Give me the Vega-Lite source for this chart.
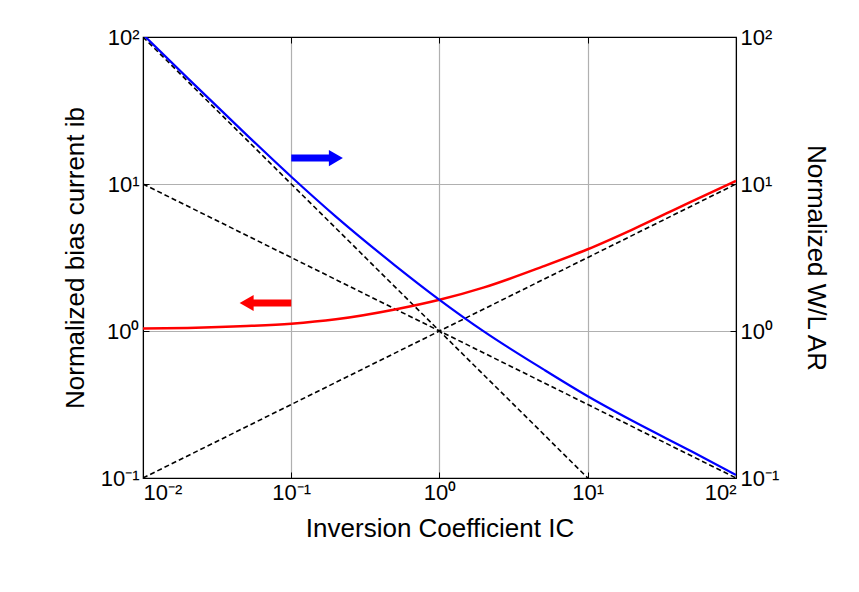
{"$schema": "https://vega.github.io/schema/vega-lite/v6.json",
  "width": 593, "height": 441,
  "padding": {"left": 62, "top": 26, "right": 5, "bottom": 5},
  "config": {
    "font": "Liberation Sans",
    "view": {"stroke": "black", "strokeWidth": 1.2},
    "axis": {"labelFontSize": 22, "titleFontSize": 26, "titleFontWeight": "normal", "labelColor": "black", "titleColor": "black",
      "tickColor": "black", "domainColor": "black", "tickSize": -6, "labelPadding": 10, "gridColor": "#b0b0b0", "gridWidth": 1.2}
  },
  "datasets": {
    "curves": [
      {"ic": 0.01, "ib": 1.04, "wl": 104}, {"ic": 0.02, "ib": 1.05, "wl": 52.5}, {"ic": 0.05, "ib": 1.08, "wl": 21.6},
      {"ic": 0.1, "ib": 1.12, "wl": 11.2}, {"ic": 0.2, "ib": 1.2, "wl": 6.0}, {"ic": 0.5, "ib": 1.4, "wl": 2.8},
      {"ic": 1, "ib": 1.63, "wl": 1.63}, {"ic": 2, "ib": 1.98, "wl": 0.99}, {"ic": 5, "ib": 2.75, "wl": 0.55},
      {"ic": 10, "ib": 3.6, "wl": 0.36}, {"ic": 20, "ib": 4.9, "wl": 0.245}, {"ic": 50, "ib": 7.6, "wl": 0.152},
      {"ic": 100, "ib": 10.5, "wl": 0.105}
    ],
    "dashes": [
      {"ic": 0.01, "y": 100, "g": "a"}, {"ic": 10, "y": 0.1, "g": "a"},
      {"ic": 0.01, "y": 10, "g": "b"}, {"ic": 100, "y": 0.1, "g": "b"},
      {"ic": 0.01, "y": 0.1, "g": "c"}, {"ic": 100, "y": 10, "g": "c"}
    ],
    "arrows": [
      {"x1": 0.1, "x2": 0.185, "tip": 0.2, "y": 15, "c": "blue", "shape": "triangle-right"},
      {"x1": 0.1, "x2": 0.054, "tip": 0.05, "y": 1.55, "c": "red", "shape": "triangle-left"}
    ]
  },
  "resolve": {"axis": {"x": "independent", "y": "independent"}},
  "layer": [
    {
      "data": {"name": "dashes"},
      "mark": {"type": "line", "color": "black", "strokeDash": [5, 3], "strokeWidth": 1.6, "clip": true},
      "encoding": {
        "x": {"field": "ic", "type": "quantitative", "scale": {"type": "log", "domain": [0.01, 100]},
          "axis": {"title": "Inversion Coefficient IC", "titlePadding": 12, "values": [0.01, 0.1, 1, 10, 100], "grid": true,
            "labelExpr": "datum.value==0.01?'10⁻²':datum.value==0.1?'10⁻¹':datum.value==1?'10⁰':datum.value==10?'10¹':'10²'"}},
        "y": {"field": "y", "type": "quantitative", "scale": {"type": "log", "domain": [0.1, 100]},
          "axis": {"title": "Normalized bias current ib", "titlePadding": 12, "values": [0.1, 1, 10, 100], "grid": true,
            "labelExpr": "datum.value==0.1?'10⁻¹':datum.value==1?'10⁰':datum.value==10?'10¹':'10²'"}},
        "detail": {"field": "g"}
      }
    },
    {
      "data": {"name": "curves"},
      "mark": {"type": "line", "color": "red", "strokeWidth": 2.5, "clip": true, "interpolate": "monotone"},
      "encoding": {
        "x": {"field": "ic", "type": "quantitative", "scale": {"type": "log", "domain": [0.01, 100]},
          "axis": {"orient": "top", "labels": false, "title": null, "values": [0.01, 0.1, 1, 10, 100]}},
        "y": {"field": "ib", "type": "quantitative", "scale": {"type": "log", "domain": [0.1, 100]},
          "axis": {"orient": "right", "title": "Normalized W/L AR", "titleAngle": 90, "titlePadding": 24, "values": [0.1, 1, 10, 100],
            "labelExpr": "datum.value==0.1?'10⁻¹':datum.value==1?'10⁰':datum.value==10?'10¹':'10²'"}}
      }
    },
    {
      "data": {"name": "curves"},
      "mark": {"type": "line", "color": "blue", "strokeWidth": 2.2, "clip": true, "interpolate": "monotone"},
      "encoding": {
        "x": {"field": "ic", "type": "quantitative", "axis": null},
        "y": {"field": "wl", "type": "quantitative", "axis": null}
      }
    },
    {
      "data": {"name": "arrows"},
      "mark": {"type": "rule", "strokeWidth": 7},
      "encoding": {
        "x": {"field": "x1", "type": "quantitative", "axis": null},
        "x2": {"field": "x2"},
        "y": {"field": "y", "type": "quantitative", "axis": null},
        "color": {"field": "c", "type": "nominal", "scale": null}
      }
    },
    {
      "data": {"name": "arrows"},
      "mark": {"type": "point", "filled": true, "size": 260, "opacity": 1},
      "encoding": {
        "x": {"field": "tip", "type": "quantitative", "axis": null},
        "y": {"field": "y", "type": "quantitative", "axis": null},
        "color": {"field": "c", "type": "nominal", "scale": null},
        "shape": {"field": "shape", "type": "nominal", "scale": null}
      }
    }
  ]
}
